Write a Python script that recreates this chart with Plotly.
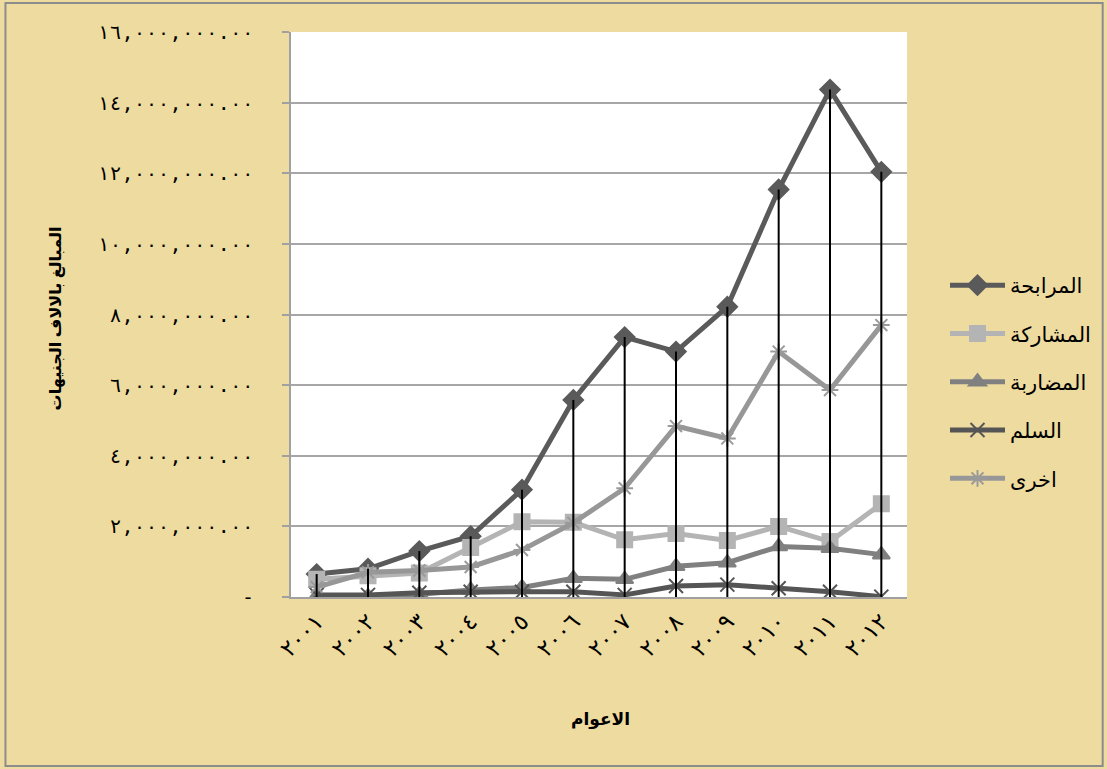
import plotly.graph_objects as go

# Years and their Arabic-Indic labels
years = ["2001", "2002", "2003", "2004", "2005", "2006",
         "2007", "2008", "2009", "2010", "2011", "2012"]
year_labels = ["٢٠٠١", "٢٠٠٢", "٢٠٠٣", "٢٠٠٤", "٢٠٠٥", "٢٠٠٦",
               "٢٠٠٧", "٢٠٠٨", "٢٠٠٩", "٢٠١٠", "٢٠١١", "٢٠١٢"]

# Financing amounts by instrument
murabaha = [650000, 800000, 1300000, 1720000, 3040000, 5580000,
            7360000, 6950000, 8220000, 11540000, 14370000, 12040000]
musharaka = [500000, 600000, 680000, 1400000, 2130000, 2120000,
             1620000, 1800000, 1600000, 2000000, 1570000, 2640000]
mudaraba = [20000, 20000, 80000, 200000, 270000, 530000,
            500000, 870000, 970000, 1430000, 1380000, 1200000]
salam = [60000, 60000, 120000, 150000, 150000, 150000,
         60000, 310000, 350000, 250000, 150000, 10000]
others = [280000, 700000, 750000, 850000, 1330000, 2100000,
          3080000, 4840000, 4490000, 6950000, 5860000, 7700000]

series_names = ["المرابحة", "المشاركة", "المضاربة", "السلم", "اخرى"]

y_tickvals = [0, 2000000, 4000000, 6000000, 8000000,
              10000000, 12000000, 14000000, 16000000]
y_ticktext = ["-", "٢,٠٠٠,٠٠٠.٠٠", "٤,٠٠٠,٠٠٠.٠٠", "٦,٠٠٠,٠٠٠.٠٠",
              "٨,٠٠٠,٠٠٠.٠٠", "١٠,٠٠٠,٠٠٠.٠٠", "١٢,٠٠٠,٠٠٠.٠٠",
              "١٤,٠٠٠,٠٠٠.٠٠", "١٦,٠٠٠,٠٠٠.٠٠"]

FONT = "Liberation Sans, DejaVu Sans, Arial, sans-serif"
MONO = "DejaVu Sans Mono, DejaVu Sans, monospace"
PAD = "\u00a0" * 2  # gap between the value labels and the axis

# Plot area in pixels (used to place the frame and titles)
W, H = 1107, 769
L, R, T, B = 291, 199, 32, 172
PW, PH = W - L - R, H - T - B


def px_x(p):
    return (p - L) / PW


def px_y(p):
    return (H - B - p) / PH


styles = [
    dict(data=murabaha, line="#5a5a5a", marker="#5a5a5a", symbol="diamond", size=15),
    dict(data=musharaka, line="#b4b4b4", marker="#b4b4b4", symbol="square", size=15),
    dict(data=mudaraba, line="#808080", marker="#808080", symbol="triangle-up", size=15),
    dict(data=salam, line="#555555", marker="#555555", symbol="x-thin-open", size=14),
    dict(data=others, line="#979797", marker="#9a9a9a", symbol="asterisk-open", size=14),
]

fig = go.Figure()
for i, (name, st) in enumerate(zip(series_names, styles)):
    fig.add_trace(go.Scatter(
        x=years, y=st["data"], name=name, mode="lines+markers",
        legendgroup=f"g{i}",
        line=dict(color=st["line"], width=5),
        marker=dict(symbol=st["symbol"], size=st["size"], color=st["marker"],
                    line=dict(color=st["marker"], width=2)),
    ))

# Drop lines from the murabaha points down to the category axis
drop_x, drop_y = [], []
for yr, v in zip(years, murabaha):
    drop_x += [yr, yr, None]
    drop_y += [0, v, None]
fig.add_trace(go.Scatter(x=drop_x, y=drop_y, mode="lines", showlegend=False,
                         line=dict(color="black", width=2), hoverinfo="skip"))

fig.update_layout(
    width=W, height=H,
    paper_bgcolor="#eedb9f",
    plot_bgcolor="white",
    margin=dict(l=L, r=R, t=T, b=B),
    font=dict(family=FONT, color="black"),
    legend=dict(
        x=px_x(945), y=px_y(382), xanchor="left", yanchor="middle",
        bgcolor="rgba(0,0,0,0)", tracegroupgap=18, itemwidth=55,
        font=dict(size=21, family=FONT),
    ),
    shapes=[dict(type="rect", xref="paper", yref="paper",
                 x0=px_x(5), x1=px_x(1104), y0=px_y(766), y1=px_y(3),
                 line=dict(color="#8c8c8c", width=2), layer="below")],
    annotations=[
        dict(text="<b>الاعوام</b>", xref="paper", yref="paper",
             x=px_x(601), y=px_y(720), xanchor="center", yanchor="middle",
             showarrow=False, font=dict(size=17, family=FONT)),
        dict(text="<b>المبالغ بالالاف الجنيهات</b>", xref="paper", yref="paper",
             x=px_x(56), y=px_y(318), xanchor="center", yanchor="middle",
             showarrow=False, textangle=-90,
             font=dict(size=16, family=FONT)),
    ],
)

fig.update_xaxes(
    type="category", range=[-0.5, 11.5],
    tickvals=years, ticktext=year_labels, tickangle=-45,
    tickfont=dict(size=23, family=FONT),
    showline=True, linecolor="#a0a0a0", linewidth=2,
    showgrid=False, ticks="",
)
fig.update_yaxes(
    range=[0, 16000000], tickvals=y_tickvals,
    ticktext=[t + PAD for t in y_ticktext],
    tickfont=dict(size=20, family=MONO),
    showline=True, linecolor="#a0a0a0", linewidth=2,
    showgrid=True, gridcolor="#a6a6a6", gridwidth=2,
    ticks="outside", ticklen=7, tickcolor="#a0a0a0", tickwidth=2,
    zeroline=False,
)

fig.write_html("out.html")
